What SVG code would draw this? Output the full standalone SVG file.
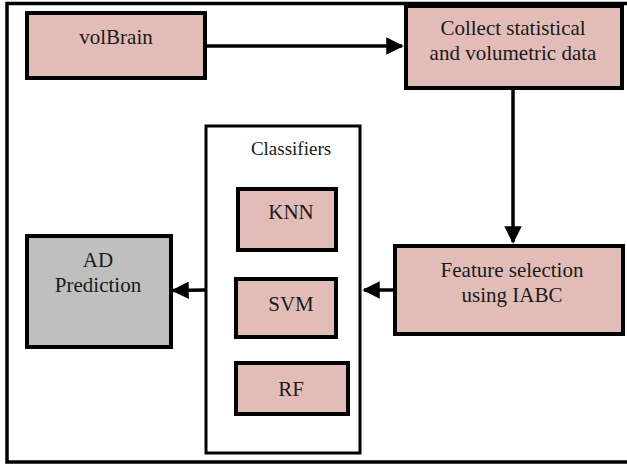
<svg xmlns="http://www.w3.org/2000/svg" width="627" height="466" viewBox="0 0 627 466">
<defs>
<style>
.box{fill:#e2bdb7;stroke:#000;stroke-width:4}
.gray{fill:#bfbfbf;stroke:#000;stroke-width:4}
.cont{fill:#fff;stroke:#000;stroke-width:3}
.frame{fill:none;stroke:#000;stroke-width:3.5}
.conn{stroke:#000;stroke-width:3.5;fill:none}
</style>
<marker id="ah" markerWidth="5" markerHeight="5" refX="4.5" refY="2.5" orient="auto" markerUnits="strokeWidth">
<path d="M0,0 L5,2.5 L0,5 Z" fill="#000"/>
</marker>
</defs>
<rect width="627" height="466" fill="#fff"/>
<rect class="frame" x="7" y="3.5" width="640" height="458.5"/>
<g font-family="Liberation Serif, Times New Roman, Times, serif" font-size="21" fill="#1a1a1a" text-anchor="middle">
<g id="volBrain">
<rect class="box" x="27" y="13" width="178" height="65"/>
<text x="116" y="44">volBrain</text>
</g>
<g id="collect">
<rect class="box" x="406" y="6" width="216" height="82"/>
<text x="513" y="35">Collect statistical</text>
<text x="513" y="60">and volumetric data</text>
</g>
<g id="feature">
<rect class="box" x="395" y="246" width="228" height="88"/>
<text x="512" y="277">Feature selection</text>
<text x="512" y="302">using IABC</text>
</g>
<g id="classifiers">
<rect class="cont" x="206" y="126" width="154" height="327"/>
<text x="291" y="155" font-size="19">Classifiers</text>
</g>
<g id="knn">
<rect class="box" x="238" y="189" width="98" height="61"/>
<text x="291" y="219">KNN</text>
</g>
<g id="svm">
<rect class="box" x="236" y="279" width="100" height="58"/>
<text x="291" y="311">SVM</text>
</g>
<g id="rf">
<rect class="box" x="236" y="363" width="112" height="51"/>
<text x="291" y="396">RF</text>
</g>
<g id="ad">
<rect class="gray" x="27" y="236" width="144" height="111"/>
<text x="98" y="267">AD</text>
<text x="98" y="292">Prediction</text>
</g>
</g>
<g id="connectors">
<line class="conn" x1="205" y1="46" x2="402" y2="46" marker-end="url(#ah)"/>
<line class="conn" x1="513" y1="88" x2="513" y2="242" marker-end="url(#ah)"/>
<line class="conn" x1="394" y1="290" x2="364" y2="290" marker-end="url(#ah)"/>
<line class="conn" x1="205" y1="290" x2="173" y2="290.5" marker-end="url(#ah)"/>
</g>
</svg>
